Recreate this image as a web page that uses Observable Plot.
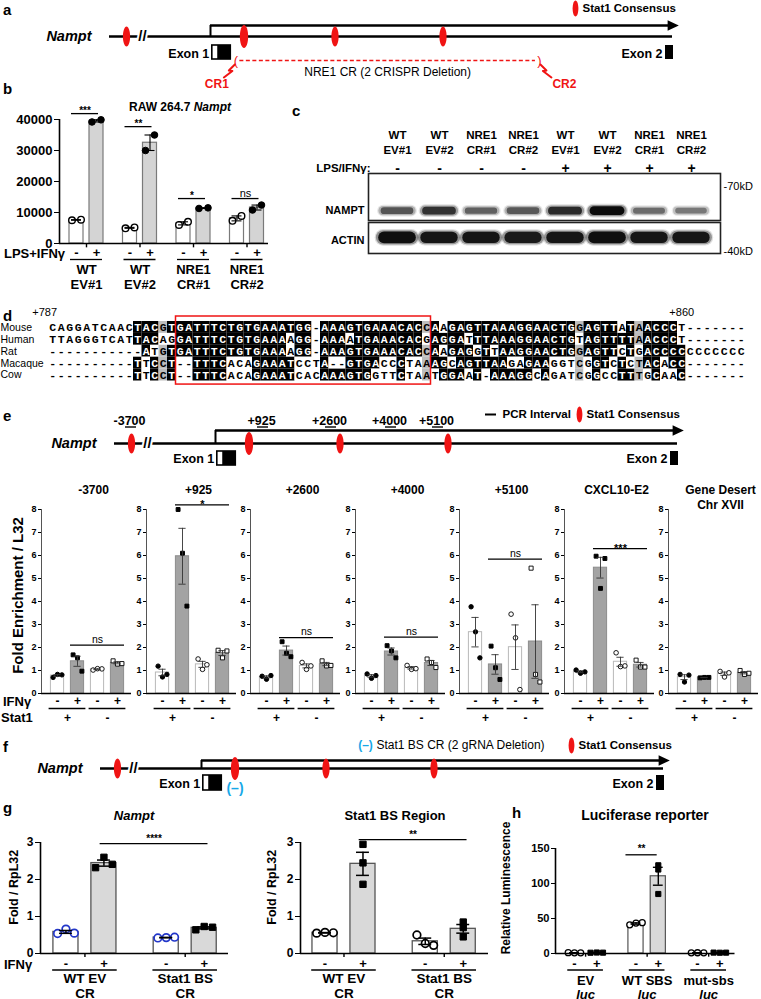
<!DOCTYPE html>
<html>
<head>
<meta charset="utf-8">
<script src="https://cdn.jsdelivr.net/npm/d3@7"></script>
<script src="https://cdn.jsdelivr.net/npm/@observablehq/plot@0.6"></script>
<style>
  html, body { margin: 0; padding: 0; background: #fff; }
  #root { position: relative; width: 761px; height: 999px; overflow: hidden; background: #fff; font-family: "Liberation Sans", Arial, Helvetica, sans-serif; }
  #root svg { overflow: visible; }
  .t { position: absolute; white-space: nowrap; line-height: 1; font-weight: bold; color: #000; }
</style>
</head>
<body>
<div id="root"></div>
<script>
// ======================= DATA =======================
// Nampt locus schematic (bp relative to TSS) — panels a, e, f
const geneSpan = [-4600, 10000];
const geneBreak = -3000;
const stat1Sites = [-3700, 925, 2600, 5100];
const mainStat1Site = 925;
const exon1 = [50, 560];
const exon1Utr = [50, 200];
const exon2 = [9830, 10000];
const crisprCuts = [700, 7150];
const crisprLabels = ["CR1", "CR2"];
const pcrIntervals = [-3700, 925, 2600, 4000, 5100];
const pcrLabels = ["-3700", "+925", "+2600", "+4000", "+5100"];

// Panel b — RAW 264.7 Nampt
const bGroups = ["WT\nEV#1", "WT\nEV#2", "NRE1\nCR#1", "NRE1\nCR#2"];
const bUntreated = [[7500, 7700], [4900, 5200], [6000, 7000], [7300, 8900]];
const bTreated = [[39200, 39900], [30000, 35000], [11300, 11500], [10800, 12400]];
const bSigLabels = ["***", "**", "*", "ns"];
const bSigLevels = [41900, 37700, 14500, 14500];
const bTicks = [0, 10000, 20000, 30000, 40000];

// Panel c — western blot
const blotLanes = ["WT\nEV#1", "WT\nEV#2", "NRE1\nCR#1", "NRE1\nCR#2", "WT\nEV#1", "WT\nEV#2", "NRE1\nCR#1", "NRE1\nCR#2"];
const blotStim = ["-", "-", "-", "-", "+", "+", "+", "+"];
const namptSignal = [0.62, 0.78, 0.56, 0.6, 0.82, 0.98, 0.5, 0.42];
const actinSignal = [0.96, 0.93, 0.93, 0.9, 0.93, 0.96, 0.93, 0.92];
const blotMarkers = ["-70kD", "-40kD"];

// Panel d — alignment
const species = ["Mouse", "Human", "Rat", "Macaque", "Cow"];
const sequences = [
  "CAGGATCAACTACGTGATTTCTGTGAAATGG-AAAGTGAAACACCAAGAGTTAAAGGAACTGGAGTTATAACCCT-------",
  "TTAGGGTCATTACAGGATTTCTGTGAAAAGG-AAAATGAAACACGAGGATTTAAAGGAACTGTAGTTTTAACCCT-------",
  "-----------ATGTGATTTCTGTGAAAAGG-AAAGTGAAACACCAAGAGGTTAAGGAACTGGAGTTCTGACCCCCCCCCCCC",
  "----------TTCCT--TTTCACAGAAATCCTA--GTGACCCTAAAGCAGTTAAGAGAAGGTCGGTCTCTACACC-------",
  "----------TTCCT--TTTCACAGAAATCACAAAGTGGTTCTAATGGAAT-AAAGGCAGATCGGCCTTTGCAAC-------"
];
const alignFirst = 787;
const alignMark = 860;
const boxedColumns = [16, 45];

// Panel e — ChIP
const eRegions = ["-3700", "+925", "+2600", "+4000", "+5100", "CXCL10-E2", "Gene Desert\nChr XVII"];
const eIfnMinusStat1Pos = [[0.70,0.83,0.81],[1.19,0.72,0.83],[0.75,0.62,0.78],[0.85,0.66,0.78],[3.77,2.68,1.55],[1.02,0.88,0.94],[0.83,0.50,0.80]];
const eIfnPlusStat1Pos  = [[1.68,1.55,0.97],[8.00,6.10,3.80],[2.25,1.75,1.60],[2.08,1.85,1.55],[2.06,1.12,0.61],[5.97,4.57,5.87],[0.68,0.70,0.70]];
const eIfnMinusStat1Neg = [[1.02,1.08,1.07],[1.50,1.05,1.25],[1.35,1.05,1.20],[1.22,1.05,1.08],[3.45,2.42,0.17],[1.77,1.17,1.20],[0.96,0.72,0.90]];
const eIfnPlusStat1Neg  = [[1.42,1.28,1.30],[1.88,1.55,1.85],[1.42,1.20,1.22],[1.50,1.35,1.13],[5.45,0.83,0.50],[1.45,1.15,1.15],[1.00,0.83,0.88]];
const eSigLabel = ["ns", "*", "ns", "ns", "ns", "***", ""];
const eSigLevel = [2.1, 8.2, 2.43, 2.45, 5.84, 6.3, null];
const eTicks = [0, 1, 2, 3, 4, 5, 6, 7, 8];

// Panel g — qPCR
const gGroups = ["WT EV\nCR", "Stat1 BS\nCR"];
const gNamptMinus = [[0.54, 0.66, 0.55], [0.42, 0.43, 0.44]];
const gNamptPlus = [[2.32, 2.60, 2.41], [0.64, 0.73, 0.71]];
const gRegionMinus = [[0.55, 0.57, 0.56], [0.50, 0.27, 0.22]];
const gRegionPlus = [[2.95, 2.45, 1.87], [0.85, 0.70, 0.45]];
const gSigLabels = ["****", "**"];
const gSigLevels = [2.97, 3.08];
const gTicks = [0, 1, 2, 3];

// Panel h — luciferase
const hGroups = ["EV", "WT SBS", "mut-sbs"];
const hMinus = [[1.2, 0.9, 1.0], [41, 43.5, 44], [0.9, 1.1, 1.0]];
const hPlus = [[1.1, 1.4, 1.2], [85, 120, 126], [1.3, 1.1, 1.2]];
const hSigLabel = "**";
const hSigLevel = 141;
const hSigGroup = 1;
const hTicks = [0, 50, 100, 150];

// ======================= HELPERS =======================
const FONT = '"Liberation Sans", Arial, Helvetica, sans-serif';
const RED = "#f01414";
const CYAN = "#17a8e8";
const root = document.getElementById("root");
const STYLE = size => ({fontFamily: FONT, fontSize: size + "px", fontWeight: "bold", color: "#000", background: "transparent", overflow: "visible"});

function put(node, left, top) {
  node.style.position = "absolute";
  node.style.left = left + "px";
  node.style.top = top + "px";
  root.appendChild(node);
  return node;
}
function label(html, x, y, o = {}) {
  const size = o.size ?? 13;
  const d = document.createElement("div");
  d.className = "t";
  d.innerHTML = html;
  d.style.fontSize = size + "px";
  if (o.weight) d.style.fontWeight = o.weight;
  if (o.italic) d.style.fontStyle = "italic";
  if (o.color) d.style.color = o.color;
  d.style.left = x + "px";
  d.style.top = (y - size / 2) + "px";
  const a = o.anchor ?? "start";
  const tx = a === "middle" ? "-50%" : a === "end" ? "-100%" : "0";
  d.style.transform = o.rotate ? `translate(-50%, 0) rotate(${o.rotate}deg)` : `translate(${tx}, 0)`;
  root.appendChild(d);
}
const mean = v => d3.mean(v);
const sem = v => v.length > 1 ? d3.deviation(v) / Math.sqrt(v.length) : 0;
function makeRows(groups, minus, plus, gap) {
  const rows = [];
  groups.forEach((g, gi) => {
    [minus[gi], plus[gi]].forEach((vals, ti) => rows.push({group: g, gi, ti, treat: ti ? "+" : "-", slot: gi * gap + ti, vals, mean: mean(vals), sem: sem(vals)}));
  });
  return rows;
}

function barPlot(o) {
  const rows = o.rows;
  const pts = rows.flatMap(r => r.vals.map((v, i) => ({...r, v, off: (i - (r.vals.length - 1) / 2) * o.spread(r)})));
  const groups = d3.groups(rows, r => r.gi).map(([gi, rs]) => ({gi, label: rs[0].group, c: d3.mean(rs, r => r.slot), lo: d3.min(rs, r => r.slot), hi: d3.max(rs, r => r.slot)}));
  const [x0, x1] = o.xDomain;
  const ymax = o.yDomain[1];
  const errStroke = o.errStroke ?? "#000", errWidth = o.errWidth ?? 1;
  const marks = [
    Plot.rect(rows, {x1: r => r.slot - o.barHalf, x2: r => r.slot + o.barHalf, y1: 0, y2: "mean", fill: o.barFill, stroke: o.barStroke, strokeWidth: o.barStrokeWidth ?? 1})
  ];
  for (const ps of o.points) {
    marks.push(Plot.dot(pts.filter(ps.filter), {x: p => p.slot + p.off, y: "v", symbol: ps.symbol, fill: ps.fill, stroke: ps.stroke, strokeWidth: ps.strokeWidth ?? 1, r: ps.r}));
  }
  marks.push(
    Plot.ruleX(rows, {x: "slot", y1: r => r.mean - r.sem, y2: r => r.mean + r.sem, stroke: errStroke, strokeWidth: errWidth}),
    Plot.ruleY(rows, {y: r => r.mean + r.sem, x1: r => r.slot - o.cap, x2: r => r.slot + o.cap, stroke: errStroke, strokeWidth: errWidth}),
    Plot.ruleY(rows, {y: r => r.mean - r.sem, x1: r => r.slot - o.cap, x2: r => r.slot + o.cap, stroke: errStroke, strokeWidth: errWidth}),
    Plot.ruleY([0], {x1: x0, x2: x1, stroke: "#000", strokeWidth: o.baseWidth ?? 1.6}),
    Plot.ruleX([x0], {y1: 0, y2: ymax, stroke: o.axisColor ?? "#000", strokeWidth: o.axisWidth ?? 1.6}),
    Plot.text(rows, {x: "slot", y: 0, text: "treat", dy: o.signDy, fontSize: o.signSize}),
    Plot.ruleY(groups, {y: 0, x1: g => g.lo - o.ulHalf, x2: g => g.hi + o.ulHalf, dy: o.ulDy, strokeWidth: 1.3})
  );
  if (o.groupTicks) marks.push(Plot.ruleX(groups, {x: "c", y1: 0, y2: -ymax * 0.035, strokeWidth: 1.4}));
  if (o.groupLabel) marks.push(Plot.text(groups, {x: "c", y: 0, text: "label", dy: o.groupLabel.dy, lineAnchor: o.groupLabel.anchor ?? "top", lineHeight: o.groupLabel.lineHeight ?? 1.15, fontSize: o.groupLabel.size}));
  if (o.groupLabel2) marks.push(Plot.text(groups, {x: "c", y: 0, text: () => o.groupLabel2.text, dy: o.groupLabel2.dy, fontStyle: "italic", fontSize: o.groupLabel2.size}));
  if (o.sig) {
    marks.push(Plot.ruleY(o.sig, {y: "level", x1: "x1", x2: "x2", strokeWidth: o.sigWidth ?? 1.3}));
    marks.push(Plot.text(o.sig.filter(s => s.label !== "ns"), {x: s => (s.x1 + s.x2) / 2, y: "level", text: "label", dy: o.starDy ?? -4, fontSize: o.starSize ?? 10}));
    marks.push(Plot.text(o.sig.filter(s => s.label === "ns"), {x: s => (s.x1 + s.x2) / 2, y: "level", text: "label", dy: o.nsDy ?? -6, fontSize: o.nsSize ?? 11, fontWeight: "normal"}));
  }
  marks.push(...(o.extra ?? []));
  return Plot.plot({
    width: o.width, height: o.height,
    marginLeft: o.marginLeft, marginRight: o.marginRight, marginTop: o.marginTop, marginBottom: o.marginBottom,
    x: {domain: o.xDomain, axis: null},
    y: {domain: o.yDomain, ticks: o.yTicks, tickFormat: d => String(d), tickSize: o.tickSize ?? 4, tickPadding: 2, label: null},
    color: {type: "identity"},
    style: STYLE(o.fontSize),
    marks
  });
}

// custom symbols
const ellipseSymbol = {
  draw(ctx, size) {
    const ry = Math.sqrt(size / Math.PI), rx = ry * 0.36, k = 0.5523;
    ctx.moveTo(0, -ry);
    ctx.bezierCurveTo(k * rx, -ry, rx, -k * ry, rx, 0);
    ctx.bezierCurveTo(rx, k * ry, k * rx, ry, 0, ry);
    ctx.bezierCurveTo(-k * rx, ry, -rx, k * ry, -rx, 0);
    ctx.bezierCurveTo(-rx, -k * ry, -k * rx, -ry, 0, -ry);
    ctx.closePath();
  }
};
const arrowHeadSymbol = {
  draw(ctx, size) {
    const s = Math.sqrt(size / Math.PI);
    ctx.moveTo(-s * 0.7, -s * 0.75);
    ctx.lineTo(s * 0.9, 0);
    ctx.lineTo(-s * 0.7, s * 0.75);
    ctx.closePath();
  }
};

// schematic x mapping (bp -> px), piecewise because of the "//" break
const schemStops = [geneSpan[0], stat1Sites[0], 0, mainStat1Site, stat1Sites[2], stat1Sites[3], geneSpan[1]];
const schemPixels = [109, 126, 210, 243.5, 334.5, 442.5, 673];
const schem = shift => d3.scaleLinear().domain(schemStops).range(schemPixels.map(p => p + shift));

function locusPlot({height, shift, G, A, box, labelY, extra}) {
  const X = schem(shift);
  const others = stat1Sites.filter(s => s !== mainStat1Site);
  const marks = [
    Plot.ruleY([G], {x1: X(geneSpan[0]), x2: X(geneSpan[1]) - 1, strokeWidth: 2.4}),
    Plot.text(["//"], {x: X(geneBreak), y: G, text: d => d, fontSize: 15, stroke: "white", strokeWidth: 4, paintOrder: "stroke", fill: "black"}),
    Plot.ruleX([0], {x: X, y1: A, y2: G, strokeWidth: 2}),
    Plot.ruleY([A], {x1: X(0), x2: X(geneSpan[1]) - 2, strokeWidth: 2.6}),
    Plot.dot([geneSpan[1]], {x: d => X(d) - 1, y: A, symbol: arrowHeadSymbol, r: 7, fill: "black"}),
    Plot.dot(others, {x: X, y: G, symbol: ellipseSymbol, r: 10, fill: RED}),
    Plot.dot([mainStat1Site], {x: X, y: G, symbol: ellipseSymbol, r: 11.5, fill: RED}),
    Plot.rect([exon1], {x1: d => X(d[0]), x2: d => X(d[1]), y1: box[0], y2: box[1], fill: "white", stroke: "black", strokeWidth: 1.6}),
    Plot.rect([exon1], {x1: () => X(exon1Utr[1]), x2: d => X(d[1]), y1: box[0], y2: box[1], fill: "black"}),
    Plot.rect([exon2], {x1: d => X(d[0]), x2: d => X(d[1]), y1: box[0], y2: box[1], fill: "black"}),
    Plot.text(["Exon 1", "Exon 2"], {x: (d, i) => X([exon1, exon2][i][0]) - 3, y: labelY, text: d => d, textAnchor: "end", fontSize: 12.5}),
    Plot.text(["Nampt"], {x: X(geneSpan[0]) - 18, y: G, text: d => d, textAnchor: "end", fontStyle: "italic", fontSize: 14.5}),
    ...extra(X)
  ];
  return Plot.plot({width: 761, height, margin: 0, axis: null, x: {type: "identity"}, y: {type: "identity"}, color: {type: "identity"}, style: STYLE(12), marks});
}
function legendMarks(y, ellX) {
  return [
    Plot.dot([0], {x: ellX, y, symbol: ellipseSymbol, r: 8, fill: RED}),
    Plot.text(["Stat1 Consensus"], {x: ellX + 7, y, text: d => d, textAnchor: "start", fontSize: 11.5})
  ];
}

// ======================= PANEL a =======================
put(locusPlot({
  height: 95, shift: 0, G: 36, A: 25, box: [45, 59], labelY: 53,
  extra: X => {
    const boltShape = [[0, 0], [-6, 6], [-2.5, 6.5], [-11, 13]];
    const bolts = crisprCuts.flatMap((cut, i) => boltShape.map(([dx, dy]) => ({k: i, x: X(cut) + (i ? 1 - dx : dx - 1), y: 64 + dy})));
    return [
      Plot.ruleY([60], {x1: X(crisprCuts[0]) + 4, x2: X(crisprCuts[1]) - 4, stroke: RED, strokeWidth: 1.3, strokeDasharray: "4,2.5"}),
      Plot.text(["(", ")"], {x: (d, i) => X(crisprCuts[i]), y: 60, text: d => d, fill: RED, fontWeight: "normal", fontSize: 13}),
      Plot.line(bolts, {x: "x", y: "y", z: "k", stroke: RED, strokeWidth: 2}),
      Plot.text(crisprLabels, {x: (d, i) => X(crisprCuts[i]) + (i ? 25 : -19), y: 84, text: d => d, fill: RED, fontSize: 12}),
      Plot.text(["NRE1 CR (2 CRISPR Deletion)"], {x: (X(crisprCuts[0]) + X(crisprCuts[1])) / 2, y: 72, text: d => d, fontWeight: "normal", fontSize: 12}),
      ...legendMarks(8, 575)
    ];
  }
}), 0, 0);

// ======================= PANEL b =======================
const bRows = makeRows(bGroups, bUntreated, bTreated, 2.675);
const bSig = bSigLabels.map((lab, i) => {
  const rs = bRows.filter(r => r.gi === i);
  return {label: lab, level: bSigLevels[i], x1: rs[0].slot - 0.25, x2: rs[1].slot + 0.1};
});
put(barPlot({
  rows: bRows, width: 275, height: 195, marginLeft: 59, marginRight: 7, marginTop: 19, marginBottom: 52,
  xDomain: [-0.85, 9.6], yDomain: [0, 40000], yTicks: bTicks, fontSize: 13, tickSize: 5,
  barHalf: 0.35, barFill: r => r.ti ? "#d4d4d4" : "#ffffff", barStroke: "#7a7a7a", barStrokeWidth: 1.2,
  points: [
    {filter: p => p.ti === 0, symbol: "circle", fill: "white", stroke: "black", strokeWidth: 1.4, r: 3.3},
    {filter: p => p.ti === 1, symbol: "circle", fill: "black", stroke: "black", strokeWidth: 1, r: 3.3}
  ],
  spread: () => 0.45, cap: 0.25, errWidth: 1.1,
  signDy: 9, signSize: 13, ulDy: 16, ulHalf: 0.3,
  groupLabel: {dy: 20, size: 13, lineHeight: 1.15},
  groupTicks: true,
  sig: bSig, starSize: 10, starDy: -3, nsDy: -5.5
}), 0, 100);

// ======================= PANEL c =======================
const lanes = blotLanes.map((name, i) => ({i, name, stim: blotStim[i], nampt: namptSignal[i], actin: actinSignal[i]}));
const laneScale = {type: "band", domain: d3.range(lanes.length), paddingInner: 0.15, paddingOuter: 0.265, axis: null};
function bandLayers(key, y, base, gain) {
  const sw = d => base + gain * d[key];
  const col = d => d3.interpolateGreys(0.35 + 0.65 * d[key]);
  return [
    Plot.tickY(lanes, {x: "i", y, stroke: col, strokeOpacity: 0.14, strokeWidth: d => sw(d) + 5, strokeLinecap: "round", insetLeft: 4, insetRight: 4}),
    Plot.tickY(lanes, {x: "i", y, stroke: col, strokeOpacity: 0.35, strokeWidth: d => sw(d) + 2.5, strokeLinecap: "round", insetLeft: 4, insetRight: 4}),
    Plot.tickY(lanes, {x: "i", y, stroke: col, strokeOpacity: 0.95, strokeWidth: sw, strokeLinecap: "round", insetLeft: 5, insetRight: 5})
  ];
}
put(Plot.plot({
  width: 471, height: 100, marginLeft: 78, marginRight: 41, marginTop: 53, marginBottom: 0,
  x: laneScale, y: {domain: [0, 1], reverse: true, axis: null}, color: {type: "identity"},
  style: STYLE(11.5),
  marks: [
    ...bandLayers("nampt", 0.79, 3, 6),
    Plot.frame({stroke: "#222", strokeWidth: 1.6}),
    Plot.text(lanes, {x: "i", text: "name", frameAnchor: "top", dy: -45, lineAnchor: "top", lineHeight: 1.3, fontSize: 11.5}),
    Plot.text(lanes, {x: "i", text: "stim", frameAnchor: "top", dy: -10, fontSize: 14}),
    Plot.text(["LPS/IFNγ:"], {text: d => d, frameAnchor: "top-left", dx: 2, dy: -10, textAnchor: "end", fontSize: 11.5}),
    Plot.text(["NAMPT"], {text: d => d, frameAnchor: "top-left", dx: -4, dy: 33, textAnchor: "end", fontSize: 11}),
    Plot.text([blotMarkers[0]], {text: d => d, frameAnchor: "top-right", dx: 3, dy: 9, textAnchor: "start", fontWeight: "normal", fontSize: 11})
  ]
}), 290, 120);
put(Plot.plot({
  width: 471, height: 31, marginLeft: 78, marginRight: 41, marginTop: 0, marginBottom: 0,
  x: laneScale, y: {domain: [0, 1], reverse: true, axis: null}, color: {type: "identity"},
  style: STYLE(11),
  marks: [
    ...bandLayers("actin", 0.48, 4, 8),
    Plot.frame({stroke: "#222", strokeWidth: 1.6}),
    Plot.text(["ACTIN"], {text: d => d, frameAnchor: "top-left", dx: -4, dy: 14, textAnchor: "end", fontSize: 11}),
    Plot.text([blotMarkers[1]], {text: d => d, frameAnchor: "top-right", dx: 3, dy: 25, textAnchor: "start", fontWeight: "normal", fontSize: 11})
  ]
}), 290, 222);

// ======================= PANEL d =======================
const L = sequences[0].length;
const cells = [];
for (let c = 0; c < L; c++) {
  const col = sequences.map(s => s[c]);
  const counts = d3.rollup(col.filter(ch => ch !== "-"), v => v.length, ch => ch);
  const nonGap = d3.sum(counts.values());
  const m = d3.max(counts.values()) ?? 0;
  const best = [...counts].filter(([, n]) => n === m).map(([ch]) => ch);
  col.forEach((ch, r) => {
    let shade = "white";
    if (ch !== "-") {
      if (m >= 3 && best.includes(ch)) shade = "black";
      else if (nonGap >= 4 && m === 2 && counts.get(ch) === 2) shade = "#bdbdbd";
    }
    cells.push({c, r, ch, shade});
  });
}
let markCol = 0;
{
  let cnt = 0;
  for (let c = 0; c < L; c++) if (sequences[0][c] !== "-") { cnt++; if (cnt === alignMark - alignFirst + 1) { markCol = c; break; } }
}
put(Plot.plot({
  width: 761, height: 90, marginLeft: 48, marginRight: 16, marginTop: 21, marginBottom: 9.5,
  x: {domain: [0, L], axis: null}, y: {domain: [0, species.length], reverse: true, axis: null}, color: {type: "identity"},
  style: STYLE(11),
  marks: [
    Plot.rect(cells, {x1: "c", x2: d => d.c + 1, y1: "r", y2: d => d.r + 1, fill: "shade"}),
    Plot.text(cells, {x: d => d.c + 0.5, y: d => d.r + 0.5, text: "ch", fill: d => d.shade === "black" ? "white" : "black", fontFamily: '"Liberation Mono", "DejaVu Sans Mono", monospace', fontWeight: "bold", fontSize: 11.5}),
    Plot.text(species, {x: 0, y: (d, i) => i + 0.5, text: d => d, textAnchor: "start", dx: -48, fontWeight: "normal", fontSize: 10.5}),
    Plot.rect([boxedColumns], {x1: d => d[0] - 1, x2: d => d[1], y1: -0.42, y2: 5.3, fill: "none", stroke: RED, strokeWidth: 1.5}),
    Plot.text([alignFirst], {x: 1, y: 0, text: d => "+" + d, textAnchor: "end", dy: -9, fontWeight: "normal", fontSize: 11}),
    Plot.text([alignMark], {x: markCol + 0.5, y: 0, text: d => "+" + d, dy: -9, fontWeight: "normal", fontSize: 11})
  ]
}), 0, 300);

// ======================= PANEL e (schematic) =======================
const pcrLabelX = d3.scaleLinear().domain(pcrIntervals).range([129, 261, 329, 389, 436]);
put(locusPlot({
  height: 75, shift: 5, G: 43, A: 30, box: [51, 65], labelY: 58,
  extra: X => [
    Plot.text(pcrLabels, {x: (d, i) => pcrLabelX(pcrIntervals[i]), y: 20, text: d => d, fontSize: 12.5}),
    Plot.ruleY(pcrIntervals, {y: 26.5, x1: d => pcrLabelX(d) - 4, x2: d => pcrLabelX(d) + 7, strokeWidth: 1.4}),
    Plot.ruleY([14], {x1: 485, x2: 496, strokeWidth: 2}),
    Plot.text(["PCR Interval"], {x: 502, y: 14, text: d => d, textAnchor: "start", fontSize: 11.5}),
    ...legendMarks(14, 579)
  ]
}), 0, 400);

// ======================= PANEL e (bars) =======================
eRegions.forEach((title, i) => {
  const rows = makeRows(["+", "-"], [eIfnMinusStat1Pos[i], eIfnMinusStat1Neg[i]], [eIfnPlusStat1Pos[i], eIfnPlusStat1Neg[i]], 2);
  const sig = eSigLabel[i] ? [{label: eSigLabel[i], level: eSigLevel[i], x1: rows[1].slot - 0.35, x2: rows[3].slot + 0.35}] : [];
  const ax = 41 + i * 104.5;
  put(barPlot({
    rows, width: 114, height: 250, marginLeft: 22, marginRight: 2, marginTop: 31, marginBottom: 35,
    xDomain: [-0.8, 3.7], yDomain: [0, 8], yTicks: eTicks, fontSize: 9, tickSize: 3,
    barHalf: 0.33, barFill: r => r.ti ? "#a3a3a3" : "#ffffff", barStroke: r => r.ti ? "#8c8c8c" : "#b8b8b8", barStrokeWidth: 1,
    points: [
      {filter: p => p.gi === 0 && p.ti === 0, symbol: "circle", fill: "black", stroke: "black", r: 2.2},
      {filter: p => p.gi === 0 && p.ti === 1, symbol: "square", fill: "black", stroke: "black", r: 2.2},
      {filter: p => p.gi === 1 && p.ti === 0, symbol: "circle", fill: "white", stroke: "black", strokeWidth: 0.9, r: 2.3},
      {filter: p => p.gi === 1 && p.ti === 1, symbol: "square", fill: "white", stroke: "black", strokeWidth: 0.9, r: 2.3}
    ],
    spread: () => 0.22, cap: 0.18, errStroke: "#333", errWidth: 0.9,
    axisColor: "#555", axisWidth: 1, baseWidth: 1.6,
    signDy: 8, signSize: 12, ulDy: 15, ulHalf: 0.42,
    groupLabel: {dy: 24, size: 12, anchor: "middle"},
    sig, starSize: 11, starDy: 0, nsDy: -6, nsSize: 10.5,
    extra: [Plot.text([title], {text: d => d, frameAnchor: "top", dx: 7, dy: -26, lineAnchor: "top", lineHeight: 1.25, fontSize: 12})]
  }), ax - 22, 478);
});

// ======================= PANEL f =======================
put(locusPlot({
  height: 70, shift: -9, G: 38, A: 30, box: [45, 60], labelY: 53,
  extra: X => [
    Plot.text(["(–)"], {x: X(mainStat1Site), y: 58, text: d => d, fill: CYAN, fontSize: 14}),
    Plot.text(["(–)"], {x: 365, y: 15, text: d => d, fill: CYAN, fontSize: 12}),
    Plot.text(["Stat1 BS CR (2 gRNA Deletion)"], {x: 376, y: 15, text: d => d, textAnchor: "start", fontWeight: "normal", fontSize: 12}),
    ...legendMarks(15, 571)
  ]
}), 0, 730);

// ======================= PANEL g =======================
function gPlot(minus, plus, sigIdx, circleColor) {
  const rows = makeRows(gGroups, minus, plus, 2.64);
  const sig = [{label: gSigLabels[sigIdx], level: gSigLevels[sigIdx], x1: rows[1].slot - 0.1, x2: rows[3].slot + 0.1}];
  return barPlot({
    rows, width: 240, height: 179, marginLeft: 40, marginRight: 240 - 40 - 188, marginTop: 22, marginBottom: 46,
    xDomain: sigIdx === 0 ? [-0.67, 4.28] : [-0.645, 4.305], yDomain: [0, 3], yTicks: gTicks, fontSize: 12, tickSize: 5,
    barHalf: 0.33, barFill: r => r.ti ? "#d9d9d9" : "#ffffff", barStroke: "#555", barStrokeWidth: 1.3,
    points: [
      {filter: p => p.ti === 0, symbol: "circle", fill: "white", stroke: circleColor, strokeWidth: 1.7, r: 3.8},
      {filter: p => p.ti === 1, symbol: "square", fill: "black", stroke: "black", r: 3.6}
    ],
    spread: r => (sigIdx === 1 && r.ti === 1) ? 0 : 0.22, cap: 0.17, errWidth: 1.5,
    signDy: 10, signSize: 13, ulDy: 16.5, ulHalf: 0.35,
    groupLabel: {dy: 20, size: 13.5, lineHeight: 1.04},
    groupTicks: true,
    sig, starSize: 10, starDy: -5
  });
}
put(gPlot(gNamptMinus, gNamptPlus, 0, "#2236c9"), 0, 820);
put(gPlot(gRegionMinus, gRegionPlus, 1, "#000"), 260, 820);

// ======================= PANEL h =======================
const hRows = makeRows(hGroups, hMinus, hPlus, 2.76);
const hG = hRows.filter(r => r.gi === hSigGroup);
put(barPlot({
  rows: hRows, width: 236, height: 179, marginLeft: 30, marginRight: 26.5, marginTop: 28, marginBottom: 46,
  xDomain: [-0.85, 7.2], yDomain: [0, 150], yTicks: hTicks, fontSize: 11, tickSize: 4,
  barHalf: 0.34, barFill: r => r.ti ? "#d9d9d9" : "#ffffff", barStroke: "#555", barStrokeWidth: 1.2,
  points: [
    {filter: p => p.ti === 0, symbol: "circle", fill: "white", stroke: "black", strokeWidth: 1.3, r: 3},
    {filter: p => p.ti === 1, symbol: "square", fill: "black", stroke: "black", r: 2.9}
  ],
  spread: r => (r.gi === hSigGroup && r.ti === 1) ? 0 : 0.28, cap: 0.22, errWidth: 1.4,
  signDy: 10, signSize: 13, ulDy: 16.5, ulHalf: 0.3,
  groupLabel: {dy: 27, size: 13, anchor: "middle"},
  groupLabel2: {text: "luc", dy: 41, size: 13},
  groupTicks: true,
  sig: [{label: hSigLabel, level: hSigLevel, x1: hG[0].slot - 0.45, x2: hG[1].slot - 0.05}], starSize: 10, starDy: -6
}), 525, 820);

// ======================= HTML TEXT =======================
label("a", 3, 9, {size: 15});
label("b", 3, 88, {size: 15});
label("c", 292, 110, {size: 15});
label("d", 3, 315, {size: 15});
label("e", 3, 415, {size: 15});
label("f", 3, 746, {size: 15});
label("g", 3, 807, {size: 15});
label("h", 512, 812, {size: 15});
label("RAW 264.7 <i>Nampt</i>", 180, 107, {size: 12, anchor: "middle"});
label("LPS+IFNγ", 4, 253, {size: 13});
label("Fold Enrichment / L32", 17, 595, {size: 15, rotate: -90});
label("IFNγ", 3, 701, {size: 13});
label("Stat1", 1, 717, {size: 13});
label("<i>Nampt</i>", 134, 815, {size: 13, anchor: "middle"});
label("Stat1 BS Region", 395, 815, {size: 13, anchor: "middle"});
label("Luciferase reporter", 645, 815, {size: 14, anchor: "middle"});
label("Fold / RpL32", 14, 887, {size: 12.5, rotate: -90});
label("Fold / RpL32", 272, 887, {size: 12.5, rotate: -90});
label("Relative Luminescence", 506, 888, {size: 12, rotate: -90});
label("IFNγ", 4, 964, {size: 13});
</script>
</body>
</html>
